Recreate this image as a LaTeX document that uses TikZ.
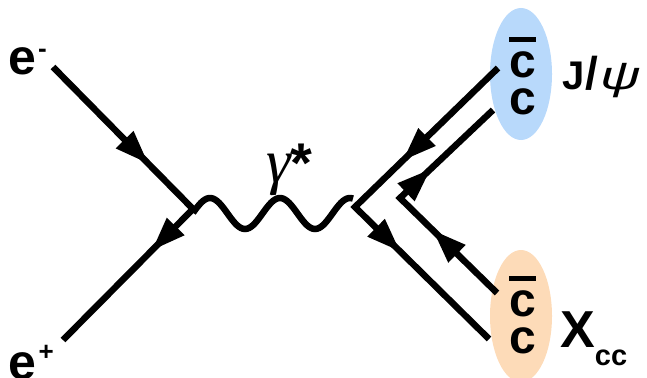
\documentclass[tikz,border=0pt]{standalone}
\usepackage{fontspec}
\setsansfont{Liberation Sans}
\newfontfamily\greekfont{Liberation Serif}
\usetikzlibrary{arrows.meta,decorations.markings,shapes.geometric}

\definecolor{jpsiblue}{HTML}{B8D9FB}
\definecolor{xccorange}{HTML}{FDDBB8}

% quark-antiquark pair: a barred c stacked above a plain c
\newcommand\quarkpair{\vbox{\offinterlineskip\hrule height 5pt\vskip 10pt\hbox{c}\vskip 10pt\hbox{c}}}

\tikzset{
  fermion/.style={line width=6.5pt, line join=miter, miter limit=10},
  photon/.style={line width=6.5pt},
  twotips/.style 2 args={postaction={decorate}, decoration={markings,
    mark=at position #1 with {\arrow{Triangle[length=34pt,width=23pt]}},
    mark=at position #2 with {\arrow{Triangle[length=34pt,width=23pt]}}}},
  meson/.style={ellipse, draw=none, inner sep=0pt, minimum width=62pt, minimum height=132pt},
  lbl/.style={font=\sffamily\bfseries, inner sep=0pt, anchor=base west},
  quarklbl/.style={font=\sffamily\bfseries\fontsize{48}{48}\selectfont, inner sep=0pt, anchor=base}
}

\begin{document}
\begin{tikzpicture}[x=1pt,y=-1pt]
  \useasboundingbox (0,0) rectangle (647,377);

  % bound states
  \node[meson, fill=jpsiblue]  (jpsi) at (521,74)  {};
  \node[meson, fill=xccorange] (xcc)  at (521,316) {};

  % vertices and line ends
  \coordinate (em) at (53,67);
  \coordinate (v1) at (193,209);
  \coordinate (ep) at (63,340);
  \coordinate (ou) at (498,68);
  \coordinate (v2) at (355,207);
  \coordinate (ol) at (489,339);
  \coordinate (il) at (497,293);
  \coordinate (v3) at (400,198);
  \coordinate (iu) at (493,110);

  % electron - positron annihilation
  \draw[fermion, twotips={136pt}{258pt}] (em) -- (v1) -- (ep);

  % virtual photon, wavelength 70, amplitude 15.5
  \begin{scope}[shift={(v1)}]
    \draw[photon] plot[smooth, samples=81, domain=0:160]
      (\x, {4.5 - 15.5*sin(5.142857*(\x+0.5))});
  \end{scope}

  % outgoing charm lines
  \draw[fermion, twotips={133pt}{263pt}] (ou) -- (v2) -- (ol);
  \draw[fermion, twotips={90pt}{178pt}]  (il) -- (v3) -- (iu);

  % quark content
  \node[quarklbl] (jq) at (522.5,114) {\quarkpair};
  \node[quarklbl] (xq) at (522.5,353) {\quarkpair};

  % particle names
  \node[lbl, font=\sffamily\bfseries\fontsize{50}{50}\selectfont] (eminus) at (8,75)
    {e\kern2pt\raisebox{17pt}{\fontsize{26}{26}\selectfont -}};
  \node[lbl, font=\sffamily\bfseries\fontsize{50}{50}\selectfont] (eplus) at (8,379)
    {e\kern2.5pt\raisebox{19pt}{\fontsize{26}{26}\selectfont +}};
  \node[lbl, font=\sffamily\bfseries\fontsize{56}{56}\selectfont] (gam) at (266,182)
    {{\greekfont\mdseries\itshape\fontsize{62}{62}\selectfont γ}*};
  \node[lbl, font=\sffamily\bfseries\fontsize{40}{40}\selectfont] (jpsilbl) at (562,90)
    {J\kern1pt{\fontsize{46}{46}\selectfont/}\kern2pt{\mdseries\itshape\fontsize{40}{40}\selectfont\scalebox{1.4}[1]{ψ}}};
  \node[lbl, font=\sffamily\bfseries\fontsize{52}{52}\selectfont] (xcclbl) at (560,347)
    {X\raisebox{-18pt}{\fontsize{29}{29}\selectfont cc}};
\end{tikzpicture}
\end{document}
